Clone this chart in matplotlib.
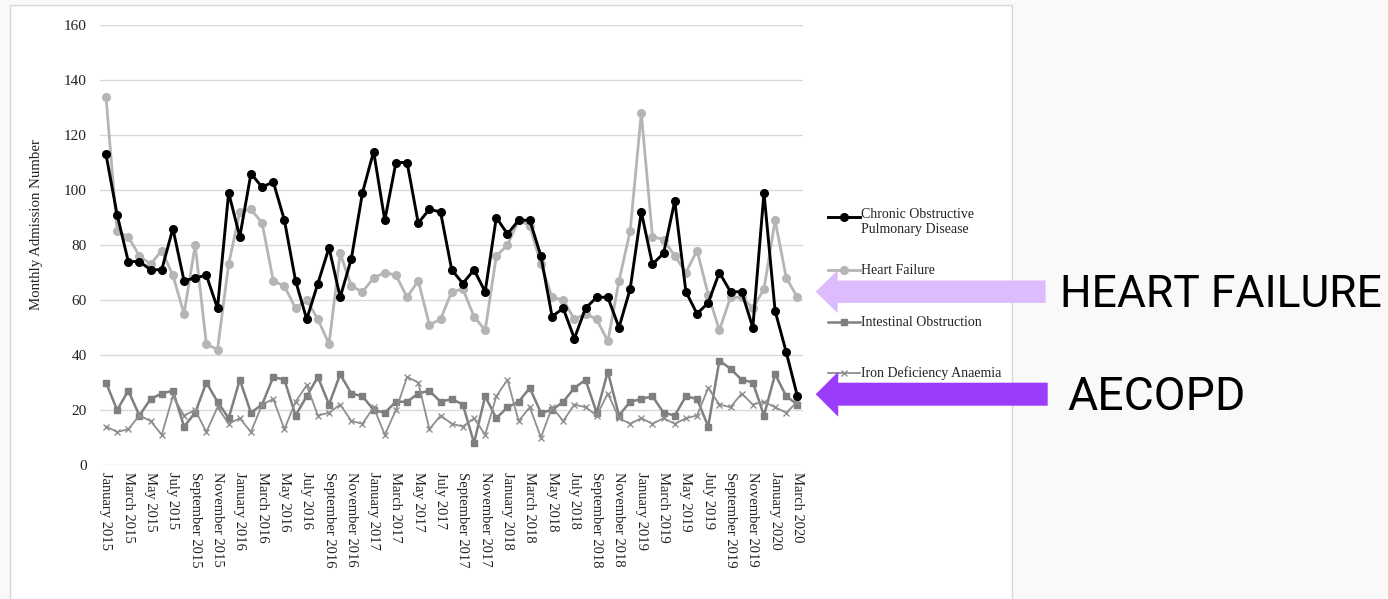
import matplotlib
matplotlib.use("Agg")
import matplotlib.pyplot as plt
from matplotlib.lines import Line2D
from matplotlib.patches import Polygon, Rectangle

# Monthly admissions, January 2015 - March 2020
months = [f"{m} {y}" for y in range(2015, 2021)
          for m in ["January", "February", "March", "April", "May", "June",
                    "July", "August", "September", "October", "November", "December"]][:63]

copd = [113, 91, 74, 74, 71, 71, 86, 67, 68, 69, 57, 99,
        83, 106, 101, 103, 89, 67, 53, 66, 79, 61, 75, 99,
        114, 89, 110, 110, 88, 93, 92, 71, 66, 71, 63, 90,
        84, 89, 89, 76, 54, 57, 46, 57, 61, 61, 50, 64,
        92, 73, 77, 96, 63, 55, 59, 70, 63, 63, 50, 99,
        56, 41, 25]

heart_failure = [134, 85, 83, 76, 73, 78, 69, 55, 80, 44, 42, 73,
                 92, 93, 88, 67, 65, 57, 60, 53, 44, 77, 65, 63,
                 68, 70, 69, 61, 67, 51, 53, 63, 64, 54, 49, 76,
                 80, 89, 87, 73, 61, 60, 53, 55, 53, 45, 67, 85,
                 128, 83, 82, 76, 70, 78, 62, 49, 61, 61, 57, 64,
                 89, 68, 61]

intestinal_obstruction = [30, 20, 27, 18, 24, 26, 27, 14, 19, 30, 23, 17,
                          31, 19, 22, 32, 31, 18, 25, 32, 22, 33, 26, 25,
                          20, 19, 23, 23, 26, 27, 23, 24, 22, 8, 25, 17,
                          21, 23, 28, 19, 20, 23, 28, 31, 19, 34, 18, 23,
                          24, 25, 19, 18, 25, 24, 14, 38, 35, 31, 30, 18,
                          33, 25, 22]

iron_deficiency = [14, 12, 13, 18, 16, 11, 25, 18, 20, 12, 21, 15,
                   17, 12, 22, 24, 13, 23, 29, 18, 19, 22, 16, 15,
                   21, 11, 20, 32, 30, 13, 18, 15, 14, 17, 11, 25,
                   31, 16, 21, 10, 21, 16, 22, 21, 18, 26, 17, 15,
                   17, 15, 17, 15, 17, 18, 28, 22, 21, 26, 22, 23,
                   21, 19, 23]

series_labels = ["Chronic Obstructive\nPulmonary Disease", "Heart Failure",
                 "Intestinal Obstruction", "Iron Deficiency Anaemia"]
y_ticks = [0, 20, 40, 60, 80, 100, 120, 140, 160]

W, H = 1388, 599
SERIF = "Liberation Serif"
TEXT = "#222222"

fig = plt.figure(figsize=(W / 100, H / 100), dpi=100, facecolor="#f9f9f9")


def fx(px):
    return px / W


def fy(py):
    return 1 - py / H


# white panel holding the chart
fig.add_artist(Rectangle((fx(10), fy(600)), fx(1012) - fx(10), fy(5) - fy(600),
                         transform=fig.transFigure, facecolor="white",
                         edgecolor="#d6d6d6", linewidth=1.0, zorder=0))

ax = fig.add_axes([fx(100.4), fy(465), fx(803) - fx(100.4), fy(25) - fy(465)])
ax.set_facecolor("none")

x = list(range(len(months)))
styles = [
    dict(color="black", lw=2.1, marker="o", ms=5.5, mfc="black", mec="black"),
    dict(color="#b5b5b5", lw=2.0, marker="o", ms=5.5, mfc="#b5b5b5", mec="#b5b5b5"),
    dict(color="#7f7f7f", lw=1.8, marker="s", ms=4.5, mfc="#7f7f7f", mec="#7f7f7f"),
    dict(color="#8f8f8f", lw=1.3, marker="x", ms=5, mew=1.0, mec="#8f8f8f"),
]
all_series = [copd, heart_failure, intestinal_obstruction, iron_deficiency]
zorders = [5, 4, 3, 3]
for values, st, z in zip(all_series, styles, zorders):
    ax.plot(x, values, zorder=z, **st)

ax.set_xlim(-0.5, len(months) - 0.5)
ax.set_ylim(0, 160)
ax.set_yticks(y_ticks)
ax.grid(axis="y", color="#d9d9d9", linewidth=1.0, zorder=0)
ax.set_axisbelow(True)
ax.set_xticks(x[::2])
ax.set_xticklabels(months[::2], rotation=270, fontfamily=SERIF, fontsize=10.5,
                   color=TEXT)
for lab in ax.get_yticklabels():
    lab.set_fontfamily(SERIF)
    lab.set_fontsize(11)
    lab.set_color(TEXT)
ax.tick_params(axis="both", length=0)
ax.tick_params(axis="x", pad=5)
ax.tick_params(axis="y", pad=10)
for sp in ax.spines.values():
    sp.set_visible(False)

fig.text(fx(37), fy(224), "Monthly Admission Number", rotation=90,
         ha="center", va="center", fontfamily=SERIF, fontsize=10.7, color=TEXT)

# legend drawn at the right of the plot
legend_rows = [217, 270, 322, 373]
for st, label, row in zip(styles, series_labels, legend_rows):
    fig.add_artist(Line2D([fx(828), fx(860)], [fy(row), fy(row)],
                          transform=fig.transFigure, lw=st["lw"],
                          color=st["color"]))
    marker_kw = {k: v for k, v in st.items() if k not in ("lw", "color")}
    fig.add_artist(Line2D([fx(844)], [fy(row)], transform=fig.transFigure,
                          ls="none", color=st["color"], **marker_kw))
    if "\n" in label:
        fig.text(fx(861), fy(row - 8.5), label, ha="left", va="top",
                 fontfamily=SERIF, fontsize=10, color=TEXT, linespacing=1.12)
    else:
        fig.text(fx(861), fy(row), label, ha="left", va="center",
                 fontfamily=SERIF, fontsize=10, color=TEXT)


def arrow(tip_x, tip_y, tail_x, shaft_half, head_half, head_len, color):
    pts = [(tip_x, tip_y),
           (tip_x + head_len, tip_y - head_half),
           (tip_x + head_len, tip_y - shaft_half),
           (tail_x, tip_y - shaft_half),
           (tail_x, tip_y + shaft_half),
           (tip_x + head_len, tip_y + shaft_half),
           (tip_x + head_len, tip_y + head_half)]
    fig.add_artist(Polygon([(fx(px), fy(py)) for px, py in pts], closed=True,
                           transform=fig.transFigure, facecolor=color,
                           edgecolor="none", zorder=10))


arrow(815.7, 291.7, 1045.7, 11.2, 21.5, 22, "#dcbcfc")
arrow(815.7, 394.2, 1047.7, 11.5, 22.5, 22.5, "#9b3cfa")

fig.text(fx(1060), fy(306.7), "HEART FAILURE", ha="left", va="baseline",
         fontfamily="Roboto", fontsize=32, color="black")
fig.text(fx(1067.5), fy(410), "AECOPD", ha="left", va="baseline",
         fontfamily="Roboto", fontsize=33.3, color="black")

fig.savefig("out.png", dpi=100, facecolor=fig.get_facecolor())
